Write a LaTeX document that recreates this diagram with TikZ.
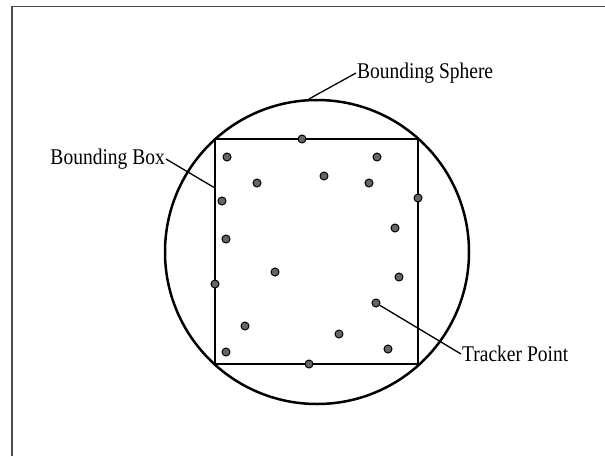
\documentclass[tikz,border=0pt]{standalone}
\usepackage{fontspec}
\setmainfont{Liberation Serif}
\usepackage{tikz}
\usetikzlibrary{calc}
\tikzset{
  tracker/.style={circle,draw=black,fill=black!60,line width=1pt,inner sep=0pt,minimum size=8pt},
  lbl/.style={font=\fontsize{19.5}{22}\selectfont,inner sep=1pt},
  leader/.style={line width=1.3pt}
}
\newcommand{\tall}[1]{\scalebox{1}[1.15]{#1}}
\begin{document}
\begin{tikzpicture}[x=1pt,y=-1pt]
    \useasboundingbox (0,0) rectangle (605,456);
    \draw[black!70,line width=1.4pt] (12,456)--(12,6.5)--(605,6.5);
    \node[circle,draw,line width=2.5pt,minimum size=304pt,inner sep=0pt] (sphere) at (317,252) {};
    \node[draw,line width=2.2pt,minimum width=203pt,minimum height=225pt,inner sep=0pt] (box) at (316.5,251.5) {};
    % tracker points
    \foreach \x/\y [count=\i] in {302/139,227/157,377/157,257/183,324/176,369/183,222/201,418/198,
        395/228,226/239,275/272,399/277,215/284,376/303,245/326,339/334,226/352,388/349,309/364}
        \node[tracker] (p\i) at (\x,\y) {};
    \node[lbl,anchor=west] (sphlbl) at (356,73) {\tall{Bounding Sphere}};
    \node[lbl,anchor=east] (boxlbl) at (166,159) {\tall{Bounding Box}};
    \node[lbl,anchor=west] (ptlbl) at (461,354) {\tall{Tracker Point}};
    \draw[leader] (sphere.93)--(sphlbl.west);
    \draw[leader] (box.148)--(boxlbl.east);
    \draw[leader] (p14)--(ptlbl.west);
\end{tikzpicture}
\end{document}
